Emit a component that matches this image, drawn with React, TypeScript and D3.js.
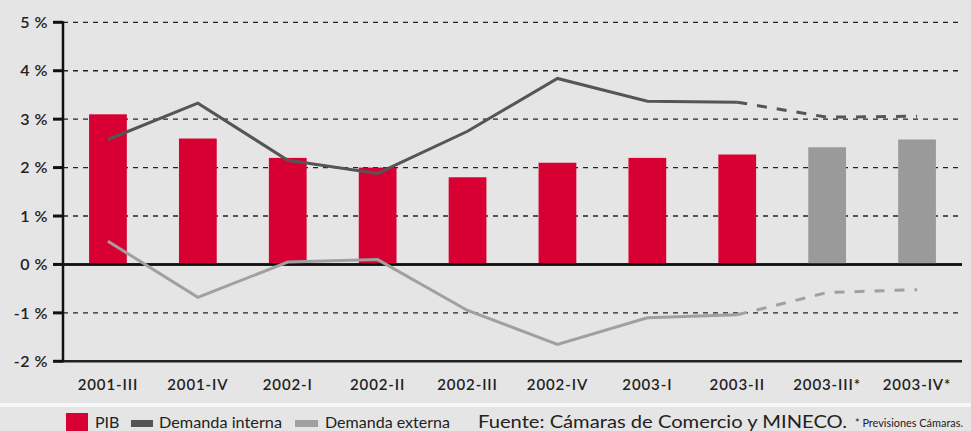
import React from "react";
import * as d3 from "d3";

const categories = ["2001-III", "2001-IV", "2002-I", "2002-II", "2002-III", "2002-IV", "2003-I", "2003-II", "2003-III*", "2003-IV*"];
const pib = [3.1, 2.6, 2.2, 2.0, 1.8, 2.1, 2.2, 2.27, 2.42, 2.58];
const pibForecast = [false, false, false, false, false, false, false, false, true, true];
const demandaInterna = [2.58, 3.33, 2.15, 1.88, 2.75, 3.84, 3.37, 3.35, 3.04, 3.06];
const demandaExterna = [0.48, -0.68, 0.05, 0.1, -0.95, -1.65, -1.1, -1.04, -0.58, -0.52];
const forecastFrom = 7; // index where dashed segment begins
const yTicks = [5, 4, 3, 2, 1, 0, -1, -2];
const yTickLabels = ["5 %", "4 %", "3 %", "2 %", "1 %", "0 %", "-1 %", "-2 %"];

const W = 971;
const H = 431;
const FONT = "Lato, 'Open Sans', sans-serif";

export default function App() {
  const x = d3.scaleBand<string>().domain(categories).range([63, 962]).padding(0);
  const y = d3.scaleLinear().domain([-2, 5]).range([361.3, 22.3]);
  const barW = x.bandwidth() * 0.42;
  const cx = (i: number) => (x(categories[i]) as number) + x.bandwidth() / 2;

  const line = d3
    .line<[number, number]>()
    .x((d) => cx(d[0]))
    .y((d) => y(d[1]));

  const seg = (arr: number[], from: number, to: number) =>
    arr.map((v, i) => [i, v] as [number, number]).slice(from, to + 1);

  const n = categories.length;
  const ly = 428;

  return (
    <svg
      width={W}
      height={H}
      style={{ position: "absolute", left: 0, top: 0, display: "block" }}
      fontFamily={FONT}
    >
      <rect x={0} y={0} width={W} height={H} fill="#e5e5e5" />
      <rect x={0} y={403} width={W} height={4} fill="#f7f7f7" />

      {/* gridlines */}
      {yTicks.map((t) => (
        <line
          key={"g" + t}
          x1={63}
          x2={962}
          y1={y(t)}
          y2={y(t)}
          stroke="#222"
          strokeWidth={t === 0 || t === -2 ? 2.5 : 1.3}
          strokeDasharray={t === 0 || t === -2 ? undefined : "5,5"}
        />
      ))}

      {/* bars */}
      {pib.map((v, i) => (
        <rect
          key={"b" + i}
          x={cx(i) - barW / 2}
          y={y(v)}
          width={barW}
          height={y(0) - y(v)}
          fill={pibForecast[i] ? "#9a9a9a" : "#d80032"}
        />
      ))}

      {/* zero line re-drawn over bars */}
      <line x1={63} x2={962} y1={y(0)} y2={y(0)} stroke="#111" strokeWidth={2.5} />

      {/* lines */}
      <path d={line(seg(demandaExterna, 0, forecastFrom)) || ""} fill="none" stroke="#a0a0a0" strokeWidth={3} />
      <path
        d={line(seg(demandaExterna, forecastFrom, n - 1)) || ""}
        fill="none"
        stroke="#a0a0a0"
        strokeWidth={3}
        strokeDasharray="10,10"
      />
      <path d={line(seg(demandaInterna, 0, forecastFrom)) || ""} fill="none" stroke="#555" strokeWidth={3} />
      <path
        d={line(seg(demandaInterna, forecastFrom, n - 1)) || ""}
        fill="none"
        stroke="#555"
        strokeWidth={3}
        strokeDasharray="10,10"
      />

      {/* y axis */}
      <line x1={63} x2={63} y1={y(5) - 1} y2={y(-2) + 1} stroke="#111" strokeWidth={2.5} />
      {yTicks.map((t, i) => (
        <g key={"t" + t}>
          <line x1={53} x2={63} y1={y(t)} y2={y(t)} stroke="#111" strokeWidth={3} />
          <text
            x={48}
            y={y(t)}
            dy="0.36em"
            textAnchor="end"
            fontSize={16}
            fontWeight={600}
            letterSpacing={0.5}
            fill="#222"
          >
            {yTickLabels[i]}
          </text>
        </g>
      ))}

      {/* x labels */}
      {categories.map((c, i) => (
        <text
          key={"x" + c}
          x={cx(i)}
          y={390}
          textAnchor="middle"
          fontSize={15}
          fontWeight={600}
          letterSpacing={0.9}
          fill="#222"
        >
          {c}
        </text>
      ))}

      {/* legend */}
      <rect x={66} y={413} width={22} height={20} fill="#d80032" />
      <text x={95} y={ly} fontSize={16} fill="#222">PIB</text>
      <rect x={131} y={420} width={22} height={7} fill="#555" />
      <text x={159} y={ly} fontSize={16} fill="#222" textLength={123} lengthAdjust="spacingAndGlyphs">Demanda interna</text>
      <rect x={295} y={420} width={23} height={7} fill="#a0a0a0" />
      <text x={325} y={ly} fontSize={16} fill="#222" textLength={125} lengthAdjust="spacingAndGlyphs">Demanda externa</text>
      <text x={478} y={ly} fontSize={18} fill="#222" textLength={369} lengthAdjust="spacingAndGlyphs">
        Fuente: Cámaras de Comercio y MINECO.
      </text>
      <text x={855} y={ly - 1} fontSize={12} fill="#222" textLength={108} lengthAdjust="spacingAndGlyphs">
        * Previsiones Cámaras.
      </text>
    </svg>
  );
}
